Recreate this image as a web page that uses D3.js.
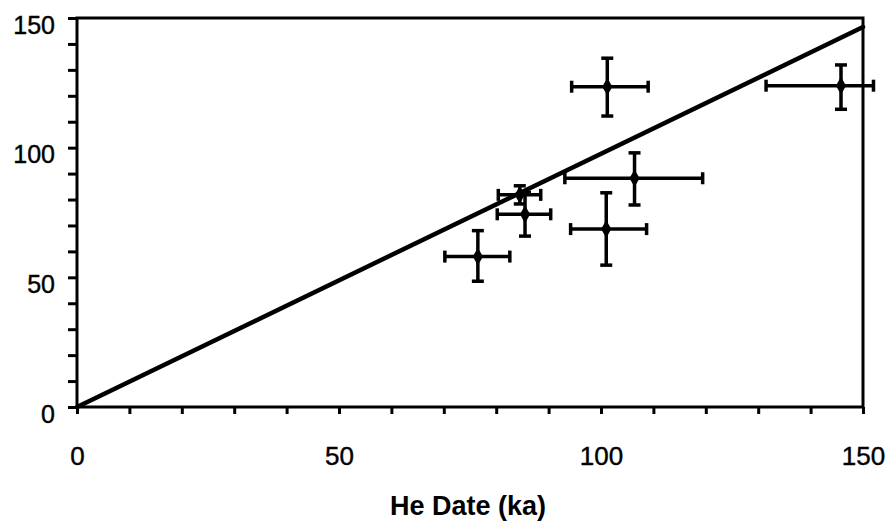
<!DOCTYPE html>
<html>
<head>
<meta charset="utf-8">
<script src="https://cdn.jsdelivr.net/npm/d3@7"></script>
<style>
  body { margin: 0; background: #fff; }
  svg text { font-family: "Liberation Sans", Arial, sans-serif; fill: #000; }
</style>
</head>
<body>
<svg id="chart" width="889" height="522"></svg>
<script>
// He date (x) vs other date (y), with error ranges
var heDate  = [76.5, 85.5, 84.5, 101.0, 106.4, 101.2, 145.8];
var heLo    = [70.2, 80.2, 80.4,  94.2,  93.1,  94.4, 131.5];
var heHi    = [82.6, 90.4, 88.5, 108.7, 119.4, 109.0, 152.0];
var yDate   = [58.0, 74.3, 81.8,  68.6,  88.2, 123.5, 123.9];
var yLo     = [48.5, 65.9, 78.3,  54.7,  77.9, 112.2, 114.8];
var yHi     = [68.0, 82.7, 85.3,  82.6,  98.0, 134.5, 131.9];
var refLine = [[0, 0], [150, 146.5]];
var tickVals = d3.range(0, 151, 10);
var labelVals = [0, 50, 100, 150];

var svg = d3.select("#chart");
var pl = 77, pr = 863, pt = 18, pb = 407;

var x = d3.scaleLinear().domain([0, 150]).range([pl, pr]);
var y = d3.scaleLinear().domain([0, 150]).range([pb, pt]);

var fmt = function(d){ return labelVals.indexOf(d) >= 0 ? d : ""; };

// x axis
var gx = svg.append("g").attr("transform", "translate(0," + pb + ")")
  .call(d3.axisBottom(x).tickValues(tickVals).tickSize(7).tickFormat(fmt));
gx.attr("font-size", 26);
gx.selectAll("text").attr("y", 58).attr("dy", 0);

// y axis
var gy = svg.append("g").attr("transform", "translate(" + pl + ",0)")
  .call(d3.axisLeft(y).tickValues(tickVals).tickSize(9).tickFormat(fmt));
gy.attr("font-size", 25);
gy.selectAll("text").attr("x", -22).attr("dy", 15);

svg.selectAll(".domain").remove();
svg.selectAll(".tick line").attr("stroke-width", 3);
svg.selectAll(".tick text").attr("fill", "#000").attr("stroke", "#000").attr("stroke-width", 0.4);

// frame
svg.append("path")
  .attr("d", "M" + pl + "," + pb + "H" + pr + "V" + pt + "H" + pl + "Z")
  .attr("fill", "none").attr("stroke", "#000").attr("stroke-width", 3);

// reference line
svg.append("line")
  .attr("x1", x(refLine[0][0])).attr("y1", y(refLine[0][1]))
  .attr("x2", x(refLine[1][0])).attr("y2", y(refLine[1][1]))
  .attr("stroke", "#000").attr("stroke-width", 4.5).attr("stroke-linecap", "round");

// error bars
var cap = 6;
var eg = svg.append("g").attr("stroke", "#000").attr("stroke-width", 3.5);
heDate.forEach(function(d, i){
  var cx = x(d), cy = y(yDate[i]);
  eg.append("line").attr("x1", x(heLo[i])).attr("x2", x(heHi[i])).attr("y1", cy).attr("y2", cy);
  eg.append("line").attr("x1", cx).attr("x2", cx).attr("y1", y(yLo[i])).attr("y2", y(yHi[i]));
  eg.append("line").attr("x1", x(heLo[i])).attr("x2", x(heLo[i])).attr("y1", cy - cap).attr("y2", cy + cap);
  eg.append("line").attr("x1", x(heHi[i])).attr("x2", x(heHi[i])).attr("y1", cy - cap).attr("y2", cy + cap);
  eg.append("line").attr("x1", cx - cap).attr("x2", cx + cap).attr("y1", y(yLo[i])).attr("y2", y(yLo[i]));
  eg.append("line").attr("x1", cx - cap).attr("x2", cx + cap).attr("y1", y(yHi[i])).attr("y2", y(yHi[i]));
});

// markers
svg.append("g").selectAll("path").data(heDate).join("path")
  .attr("d", d3.symbol().type(d3.symbolDiamond).size(90))
  .attr("transform", function(d, i){ return "translate(" + x(d) + "," + y(yDate[i]) + ")"; })
  .attr("fill", "#000");

// axis title
svg.append("text")
  .attr("x", 468).attr("y", 515)
  .attr("text-anchor", "middle")
  .style("font-size", "27px").style("font-weight", "bold")
  .text("He Date (ka)");
</script>
</body>
</html>
